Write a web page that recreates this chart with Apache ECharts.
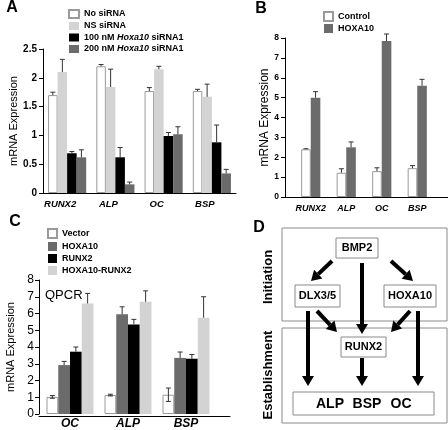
<!DOCTYPE html>
<html><head><meta charset="utf-8">
<script src="https://cdn.jsdelivr.net/npm/echarts@6/dist/echarts.min.js"></script>
<style>html,body{margin:0;padding:0;background:#fff}#c{width:448px;height:430px}</style>
</head><body><div id="c"></div>
<script>
// ---------- Panel A ----------
const catsA = ['RUNX2', 'ALP', 'OC', 'BSP'];
const namesA = ['No siRNA', 'NS siRNA', '100 nM Hoxa10 siRNA1', '200 nM Hoxa10 siRNA1'];
const aNoSi    = [1.70, 2.20, 1.77, 1.77];
const aNoSiErr = [0.05, 0.03, 0.06, 0.03];
const aNS      = [2.10, 1.84, 2.15, 1.67];
const aNSErr   = [0.22, 0.31, 0.05, 0.22];
const a100     = [0.69, 0.62, 0.99, 0.88];
const a100Err  = [0.03, 0.17, 0.06, 0.30];
const a200     = [0.62, 0.15, 1.02, 0.34];
const a200Err  = [0.13, 0.04, 0.13, 0.07];

// ---------- Panel B ----------
const catsB = ['RUNX2', 'ALP', 'OC', 'BSP'];
const namesB = ['Control', 'HOXA10'];
const bCtrl    = [2.40, 1.22, 1.30, 1.45];
const bCtrlErr = [0.03, 0.20, 0.17, 0.13];
const bHox     = [5.00, 2.50, 7.85, 5.60];
const bHoxErr  = [0.30, 0.27, 0.35, 0.32];

// ---------- Panel C ----------
const catsC = ['OC', 'ALP', 'BSP'];
const namesC = ['Vector', 'HOXA10', 'RUNX2', 'HOXA10-RUNX2'];
const cVec      = [1.02, 1.13, 1.15];
const cVecErr   = [0.08, 0.05, 0.40];
const cHox      = [2.92, 5.95, 3.35];
const cHoxErr   = [0.22, 0.45, 0.35];
const cRunx     = [3.72, 5.35, 3.30];
const cRunxErr  = [0.28, 0.30, 0.25];
const cBoth     = [6.60, 6.70, 5.75];
const cBothErr  = [0.60, 0.65, 1.25];

const FONT = 'Liberation Sans, Arial, sans-serif';
const WHITE = '#ffffff', LIGHT = '#d3d3d3', BLACK = '#000000', DARK = '#6b6b6b';

function bar(name, idx, data, color, gap) {
  const s = {
    type: 'bar', name: name, xAxisIndex: idx, yAxisIndex: idx, data: data,
    barGap: '0%', barCategoryGap: gap, silent: true,
    itemStyle: { color: color }
  };
  if (color === WHITE) { s.itemStyle.borderColor = '#9a9a9a'; s.itemStyle.borderWidth = 1; }
  return s;
}
function err(idx, data, up, dn, k, n, gapFrac) {
  return {
    type: 'custom', xAxisIndex: idx, yAxisIndex: idx, z: 5, silent: true,
    data: data.map((v, i) => [i, v, up[i], dn ? dn[i] : 0]),
    encode: { x: 0, y: 1 },
    renderItem: function (p, api) {
      const i = api.value(0), v = api.value(1), u = api.value(2), d = api.value(3);
      const band = api.size([1, 0])[0];
      const bw = band * (1 - gapFrac) / n;
      const x = api.coord([i, v])[0] + (k - (n - 1) / 2) * bw;
      const yT = api.coord([i, v + u])[1], yB = api.coord([i, v - d])[1];
      const cw = 2.5, st = { stroke: '#333', lineWidth: 1 };
      const ch = [
        { type: 'line', shape: { x1: x, y1: yT, x2: x, y2: yB }, style: st },
        { type: 'line', shape: { x1: x - cw, y1: yT, x2: x + cw, y2: yT }, style: st }
      ];
      if (d > 0) ch.push({ type: 'line', shape: { x1: x - cw, y1: yB, x2: x + cw, y2: yB }, style: st });
      return { type: 'group', children: ch };
    }
  };
}
function yAx(idx, max, interval, fs, fw, offset, nameGap, nameFs, margin) {
  return {
    gridIndex: idx, type: 'value', min: 0, max: max, interval: interval, offset: offset,
    name: 'mRNA Expression', nameLocation: 'middle', nameGap: nameGap, nameRotate: 90,
    nameTextStyle: { fontSize: nameFs, color: '#000', fontFamily: FONT },
    axisLine: { show: true, lineStyle: { color: '#000', width: 1 } },
    axisTick: { show: true, length: 4, lineStyle: { color: '#000' } },
    axisLabel: { fontSize: fs, fontWeight: fw, color: '#000', fontFamily: FONT, margin: margin },
    splitLine: { show: false }
  };
}
function xCat(idx, cats, fs, margin, pad) {
  return {
    gridIndex: idx, type: 'category', data: cats,
    axisLine: { show: false }, axisTick: { show: false },
    axisLabel: { interval: 0, fontSize: fs, fontWeight: 'bold', fontStyle: 'italic', color: '#000',
      fontFamily: FONT, margin: margin, padding: pad }
  };
}
function xLine(idx) {
  return {
    gridIndex: idx, type: 'value', min: 0, max: 1,
    axisLine: { show: true, onZero: false, lineStyle: { color: '#000', width: 1 } },
    axisTick: { show: false }, axisLabel: { show: false }, splitLine: { show: false }
  };
}
function yHidden(idx) { return { gridIndex: idx, type: 'value', show: false, min: 0, max: 1 }; }

const gA = 0.21, gB = 0.46, gC = 0.19;
const series = [
  bar(namesA[0], 0, aNoSi, WHITE, '21%'),
  bar(namesA[1], 0, aNS, LIGHT, '21%'),
  bar(namesA[2], 0, a100, BLACK, '21%'),
  bar(namesA[3], 0, a200, DARK, '21%'),
  err(0, aNoSi, aNoSiErr, null, 0, 4, gA),
  err(0, aNS, aNSErr, null, 1, 4, gA),
  err(0, a100, a100Err, null, 2, 4, gA),
  err(0, a200, a200Err, null, 3, 4, gA),

  bar('B|' + namesB[0], 1, bCtrl, WHITE, '46%'),
  bar('B|' + namesB[1], 1, bHox, DARK, '46%'),
  err(1, bCtrl, bCtrlErr, null, 0, 2, gB),
  err(1, bHox, bHoxErr, null, 1, 2, gB),

  bar('C|' + namesC[0], 2, cVec, WHITE, '19%'),
  bar('C|' + namesC[1], 2, cHox, DARK, '19%'),
  bar('C|' + namesC[2], 2, cRunx, BLACK, '19%'),
  bar('C|' + namesC[3], 2, cBoth, LIGHT, '19%'),
  err(2, cVec, cVecErr, cVecErr, 0, 4, gC),
  err(2, cHox, cHoxErr, null, 1, 4, gC),
  err(2, cRunx, cRunxErr, null, 2, 4, gC),
  err(2, cBoth, cBothErr, null, 3, 4, gC)
];

// ---------- Panel D diagram ----------
const boxes = [
  { x: 282, y: 228, w: 165, h: 93, t: '' },
  { x: 282, y: 328, w: 165, h: 95, t: '' },
  { x: 336, y: 238, w: 42, h: 20, t: 'BMP2' },
  { x: 295, y: 285, w: 45, h: 22, t: 'DLX3/5' },
  { x: 384, y: 285, w: 52, h: 22, t: 'HOXA10' },
  { x: 341, y: 337, w: 45, h: 20, t: 'RUNX2' },
  { x: 293, y: 392, w: 141, h: 23, t: '' }
];
const arrows = [
  [332, 261, 311, 281], [362, 263, 362, 334], [391, 261, 413, 281],
  [308, 311, 308, 386], [317, 311, 337, 332], [410, 311, 391, 332],
  [418, 311, 418, 386], [362, 358, 362, 386]
];
const gfx = [];
boxes.forEach(b => {
  gfx.push({ type: 'rect', shape: { x: b.x, y: b.y, width: b.w, height: b.h },
    style: { fill: '#fff', stroke: '#8a8a8a', lineWidth: 1 } });
  if (b.t) gfx.push({ type: 'text', x: b.x + b.w / 2, y: b.y + b.h / 2,
    style: { text: b.t, fill: '#000', font: 'bold 11px ' + FONT, align: 'center', verticalAlign: 'middle' } });
});
arrows.forEach(a => {
  const [x1, y1, x2, y2] = a;
  const L = Math.hypot(x2 - x1, y2 - y1), ux = (x2 - x1) / L, uy = (y2 - y1) / L;
  const hl = 10, hw = 6;
  const bx = x2 - ux * hl, by = y2 - uy * hl;
  gfx.push({ type: 'line', shape: { x1: x1, y1: y1, x2: bx, y2: by }, style: { stroke: '#000', lineWidth: 4 } });
  gfx.push({ type: 'polygon', shape: { points: [[x2, y2], [bx - uy * hw, by + ux * hw], [bx + uy * hw, by - ux * hw]] },
    style: { fill: '#000' } });
});
[['ALP', 330], ['BSP', 367], ['OC', 401]].forEach(t => gfx.push({ type: 'text', x: t[1], y: 404,
  style: { text: t[0], fill: '#000', font: 'bold 14px ' + FONT, align: 'center', verticalAlign: 'middle' } }));
gfx.push({ type: 'text', x: 268, y: 277, rotation: Math.PI / 2,
  style: { text: 'Initiation', fill: '#000', font: 'bold 13px ' + FONT, align: 'center', verticalAlign: 'middle' } });
gfx.push({ type: 'text', x: 268, y: 375, rotation: Math.PI / 2,
  style: { text: 'Establishment', fill: '#000', font: 'bold 13px ' + FONT, align: 'center', verticalAlign: 'middle' } });
// panel letters and QPCR
[['A', 12, 8], ['B', 261, 9], ['C', 15, 222], ['D', 259, 228]].forEach(l => gfx.push({ type: 'text', x: l[1], y: l[2],
  style: { text: l[0], fill: '#000', font: 'bold 16px ' + FONT, align: 'center', verticalAlign: 'middle' } }));
gfx.push({ type: 'text', x: 45, y: 295,
  style: { text: 'QPCR', fill: '#000', font: '13px ' + FONT, align: 'left', verticalAlign: 'middle' } });

const strip = n => n.replace(/^[BC]\|/, '');
const option = {
  animation: false,
  backgroundColor: '#fff',
  grid: [
    { left: 43, top: 49, width: 193, height: 144 },
    { left: 293, top: 38, width: 142, height: 159 },
    { left: 41, top: 280, width: 174, height: 136 },
    { left: 285, top: 38, width: 163, height: 159 },
    { left: 39, top: 280, width: 191, height: 136 }
  ],
  xAxis: [
    { gridIndex: 0, type: 'category', data: catsA,
      axisLine: { show: true, lineStyle: { color: '#000' } }, axisTick: { show: false },
      axisLabel: { interval: 0, fontSize: 9.5, fontWeight: 'bold', fontStyle: 'italic', color: '#000',
        fontFamily: FONT, margin: 6, padding: [0, 14, 0, 0] } },
    xCat(1, catsB, 9, 7, 0),
    xCat(2, catsC, 12, 4, 0),
    xLine(3),
    xLine(4)
  ],
  yAxis: [
    yAx(0, 2.5, 0.5, 10, 'bold', 0, 24, 11, 6),
    yAx(1, 8, 1, 8.5, 'bold', 8, 12, 12, 6),
    yAx(2, 8, 1, 12, 'normal', 2, 23, 11, 5),
    yHidden(3),
    yHidden(4)
  ],
  legend: [
    { left: 68, top: 9, orient: 'vertical', padding: 0, itemWidth: 10, itemHeight: 8, itemGap: 2.5,
      selectedMode: false, data: namesA, icon: 'rect',
      formatter: n => n.replace('Hoxa10', '{i|Hoxa10}'),
      textStyle: { fontSize: 9, fontWeight: 'bold', color: '#000', fontFamily: FONT, lineHeight: 9,
        rich: { i: { fontSize: 9, fontWeight: 'bold', fontStyle: 'italic', fontFamily: FONT } } } },
    { left: 323, top: 11, orient: 'vertical', padding: 0, itemWidth: 9, itemHeight: 9, itemGap: 2,
      selectedMode: false, data: namesB.map(n => 'B|' + n), icon: 'rect', formatter: strip,
      textStyle: { fontSize: 9, fontWeight: 'bold', color: '#000', fontFamily: FONT, lineHeight: 9 } },
    { left: 47, top: 228, orient: 'vertical', padding: 0, itemWidth: 9, itemHeight: 9, itemGap: 3,
      selectedMode: false, data: namesC.map(n => 'C|' + n), icon: 'rect', formatter: strip,
      textStyle: { fontSize: 9, fontWeight: 'bold', color: '#000', fontFamily: FONT, lineHeight: 9 } }
  ],
  graphic: gfx,
  series: series
};
const chart = echarts.init(document.getElementById('c'), null, { renderer: 'canvas' });
chart.setOption(option);
</script></body></html>
